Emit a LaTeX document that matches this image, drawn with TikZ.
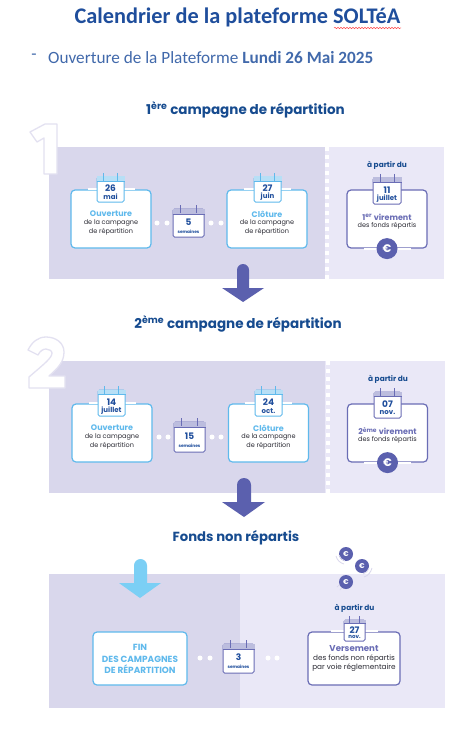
\documentclass[tikz,border=0pt]{standalone}
\usepackage{fontspec}
\usetikzlibrary{decorations.pathmorphing}
\setmainfont{Carlito}
\newfontfamily\marianne{Poppins}

\definecolor{panelsombre}{HTML}{D9D7EC}
\definecolor{panelclair}{HTML}{EAE8F7}
\definecolor{titrebleu}{HTML}{1F4E9C}
\definecolor{campbleu}{HTML}{164B8F}
\definecolor{ciel}{HTML}{5FB9EC}
\definecolor{fleche}{HTML}{5B60AE}
\definecolor{flecheciel}{HTML}{7BCFF5}
\definecolor{lilas}{HTML}{6A6DB5}
\definecolor{chiffregris}{HTML}{E3E1F1}
\definecolor{texte}{HTML}{2A2A33}

% calendar: name, top centre, width, height, colour, number, label, label size
\newcommand{\calendrier}[8]{
  \begin{scope}[shift={(#2)}]
    \node (#1) [calbox, draw=#5, minimum width=#3pt, minimum height=#4pt] at (0,#4/2) {};
    \fill[#5!45] (#1.north west) rectangle ([yshift=-0.2*#4 pt]#1.north east);
    \draw[#5, line width=0.9pt] ([yshift=-0.2*#4 pt]#1.north west) -- ([yshift=-0.2*#4 pt]#1.north east);
    \draw[#5, line width=0.9pt] (-#3/4,-4) -- (-#3/4,4);
    \draw[#5, line width=0.9pt] (#3/4,-4) -- (#3/4,4);
    \node (#1num) [calnum] at (0,0.46*#4) {#6};
    \node (#1lab) [font=\marianne\bfseries\fontsize{#8}{#8}\selectfont, text=titrebleu, inner sep=0pt] at (0,0.8*#4) {#7};
  \end{scope}
}

\begin{document}
\begin{tikzpicture}[x=1pt, y=-1pt,
  titre/.style={font=\bfseries\fontsize{22.3}{26}\selectfont, text=titrebleu, inner sep=0pt},
  ligne/.style={font=\fontsize{17.2}{20}\selectfont, text=titrebleu!85!white, inner sep=0pt},
  campagne/.style={font=\marianne\bfseries\fontsize{13.5}{16}\selectfont, text=campbleu, inner sep=0pt},
  boite/.style={rectangle, rounded corners=4pt, fill=white, line width=1.2pt, minimum width=80pt, minimum height=58pt},
  gap/.style={rectangle, fill=white, inner sep=0pt, minimum width=47pt, minimum height=2pt},
  calbox/.style={rectangle, rounded corners=1.5pt, fill=white, line width=1pt, inner sep=0pt},
  calnum/.style={font=\marianne\bfseries\fontsize{9}{10}\selectfont, text=titrebleu, inner sep=0pt},
  point/.style={circle, fill=white, inner sep=0pt, minimum size=5pt},
  etape/.style={font=\marianne\bfseries\fontsize{8}{10}\selectfont, text=ciel, inner sep=0pt},
  desc/.style={font=\marianne\fontsize{6.5}{9}\selectfont, text=texte, align=center, inner sep=0pt},
  depuis/.style={font=\marianne\bfseries\fontsize{7.4}{9}\selectfont, text=campbleu, inner sep=0pt},
  virement/.style={font=\marianne\bfseries\fontsize{8}{10}\selectfont, text=lilas, inner sep=0pt},
  euro/.style={circle, fill=fleche, text=white, inner sep=0pt, minimum size=21pt, font=\marianne\bfseries\fontsize{11}{11}\selectfont},
  petiteuro/.style={euro, minimum size=14pt, font=\marianne\bfseries\fontsize{7}{7}\selectfont},
  chiffre/.style={draw=chiffregris, fill=white, line width=1.3pt, line join=round},
  pointilles/.style={white, line width=4pt, dash pattern=on 4pt off 4pt},
  sillage/.style={draw=panelsombre, line width=0.8pt}
]
\useasboundingbox (0,0) rectangle (474,730);
\fill[white] (0,0) rectangle (474,730);

% head of the page
\node (titre) [titre] at (237.5,17) {Calendrier de la plateforme SOLTéA};
\draw[red!70!white, line width=0.5pt, decorate, decoration={snake, amplitude=0.7pt, segment length=3pt}] (334,28) -- (401,28);
\node (tiret) [ligne] at (34,57) {-};
\node (ouverture) [ligne, anchor=west] at (48,58) {Ouverture de la Plateforme \textbf{Lundi 26 Mai 2025}};

% first campaign
\node (camp1) [campagne] at (245.5,110) {1\textsuperscript{ère} campagne de répartition};
\fill[panelsombre] (49,147) rectangle (325,279);
\fill[panelclair] (325,147) rectangle (444,279);
\draw[pointilles] (327,147) -- (327,279);
\draw[chiffre] (30,132) -- (45,124) -- (57,124) -- (57,174) -- (44,174) -- (44,138) -- (37,142) -- cycle;

\node (ouv1) [boite, draw=ciel] at (111,219) {};
\node (ouv1gap) [gap] at (ouv1.north) {};
\calendrier{cal26}{110.5,177}{27}{25}{ciel}{26}{mai}{7}
\node (ouv1txt) [etape] at (111,214) {Ouverture};
\node (ouv1desc) [desc] at (111,227.5) {de la campagne\\de répartition};

\node (p1) [point] at (157,223) {};
\node (p2) [point] at (167,223) {};
\calendrier{cal5}{188.5,209}{31}{28}{lilas}{5}{semaines}{4.3}
\node (p3) [point] at (211,223) {};
\node (p4) [point] at (221,223) {};

\node (clo1) [boite, draw=ciel] at (267,219) {};
\node (clo1gap) [gap] at (clo1.north) {};
\calendrier{cal27}{267.5,177}{27}{25}{ciel}{27}{juin}{7}
\node (clo1txt) [etape] at (267,214) {Clôture};
\node (clo1desc) [desc] at (267,227.5) {de la campagne\\de répartition};

\node (dep1) [depuis] at (387,165) {à partir du};
\node (vir1) [boite, draw=lilas] at (387,219) {};
\node (vir1gap) [gap] at (vir1.south) {};
\calendrier{cal11}{387,178}{28}{26}{lilas}{11}{juillet}{7}
\node (vir1txt) [virement] at (387,217) {1\textsuperscript{er} virement};
\node (vir1desc) [desc] at (387,226) {des fonds répartis};
\node (euro1) [euro] at (vir1.south) {€};

\fill[fleche] (237,270) arc[start angle=180, end angle=360, radius=6] -- (249,288) -- (264,288) -- (243,302) -- (222,288) -- (237,288) -- cycle;

% second campaign
\node (camp2) [campagne] at (238,324) {2\textsuperscript{ème} campagne de répartition};
\fill[panelsombre] (49,361) rectangle (325,493);
\fill[panelclair] (325,361) rectangle (445,493);
\draw[pointilles] (328,361) -- (328,493);
\draw[chiffre] (29,388) -- (65,388) -- (65,376) -- (49,376) .. controls (58,368) and (64,362) .. (64,352) .. controls (64,343) and (56,337) .. (46,337) .. controls (38,337) and (32,342) .. (28,350) -- (38,355) .. controls (40,351) and (43,349) .. (46,349) .. controls (49,349) and (52,351) .. (52,353) .. controls (52,358) and (44,364) .. (29,377) -- cycle;

\node (ouv2) [boite, draw=ciel] at (112,433) {};
\node (ouv2gap) [gap] at (ouv2.north) {};
\calendrier{cal14}{111.5,390}{27}{26}{ciel}{14}{juillet}{7}
\node (ouv2txt) [etape] at (112,428) {Ouverture};
\node (ouv2desc) [desc] at (112,441) {de la campagne\\de répartition};

\node (p5) [point] at (159,437) {};
\node (p6) [point] at (168,437) {};
\calendrier{cal15}{189.5,422}{31}{30}{lilas}{15}{semaines}{4.3}
\node (p7) [point] at (212,437) {};
\node (p8) [point] at (221,437) {};

\node (clo2) [boite, draw=ciel] at (268.5,433) {};
\node (clo2gap) [gap] at (clo2.north) {};
\calendrier{cal24}{268.5,390}{27}{26}{ciel}{24}{oct.}{7}
\node (clo2txt) [etape] at (268.5,428) {Clôture};
\node (clo2desc) [desc] at (268.5,441) {de la campagne\\de répartition};

\node (dep2) [depuis] at (388,379) {à partir du};
\node (vir2) [boite, draw=lilas] at (387.5,433) {};
\node (vir2gap) [gap] at (vir2.south) {};
\calendrier{cal07}{387.5,392}{27}{26}{lilas}{07}{nov.}{7}
\node (vir2txt) [virement] at (387.5,431) {2\textsuperscript{ème} virement};
\node (vir2desc) [desc] at (387.5,440) {des fonds répartis};
\node (euro2) [euro] at (vir2.south) {€};

\fill[fleche] (237,485) arc[start angle=180, end angle=360, radius=7] -- (251,502) -- (265,502) -- (244,517) -- (222,502) -- (237,502) -- cycle;

% funds left over
\node (fonds) [campagne, font=\marianne\bfseries\fontsize{13.2}{16}\selectfont] at (236,538) {Fonds non répartis};
\fill[panelsombre] (49,574) rectangle (240,708);
\fill[panelclair] (240,574) rectangle (445,708);
\fill[flecheciel] (134,565.5) arc[start angle=180, end angle=360, radius=6.5] -- (147,583) -- (161,583) -- (140,598) -- (119,583) -- (134,583) -- cycle;

\node (fin) [boite, draw=ciel, minimum width=94pt, minimum height=53pt] at (140,658.5) {};
\node (fintxt) [etape, align=center, font=\marianne\bfseries\fontsize{8.9}{11.5}\selectfont] at (140,659) {FIN\\DES CAMPAGNES\\DE RÉPARTITION};

\node (p9) [point] at (200,658) {};
\node (p10) [point] at (210,658) {};
\calendrier{cal3}{238.5,644}{31}{29}{lilas}{3}{semaines}{4.3}
\node (p11) [point] at (268,658) {};
\node (p12) [point] at (277,658) {};

\node (euro3) [petiteuro] at (346,554) {€};
\node (euro4) [petiteuro] at (362,566) {€};
\node (euro5) [petiteuro] at (346,582) {€};
\draw[sillage] (336,556) .. controls (337,560) and (340,563) .. (344,564);
\draw[sillage] (339,555) .. controls (340,558) and (342,560) .. (345,561);
\draw[sillage] (372,568) .. controls (371,572) and (368,576) .. (364,577);
\draw[sillage] (369,568) .. controls (368,571) and (366,573) .. (363,574);
\draw[sillage] (337,587) .. controls (338,586) and (339,585) .. (340,585);
\draw[sillage] (340,590) .. controls (341,589) and (341,588) .. (342,588);

\node (dep3) [depuis] at (354.5,608) {à partir du};
\node (vers) [boite, draw=lilas, minimum width=92pt, minimum height=53pt] at (354,658.5) {};
\node (versgap) [gap] at (vers.north) {};
\calendrier{cal27b}{354.5,620}{21}{21}{lilas}{27}{nov.}{5.5}
\node (verstxt) [virement, font=\marianne\bfseries\fontsize{8.6}{10}\selectfont] at (354,649) {Versement};
\node (versdesc) [desc, font=\marianne\fontsize{7.3}{9.7}\selectfont] at (354,663) {des fonds non répartis\\par voie réglementaire};

\end{tikzpicture}
\end{document}
